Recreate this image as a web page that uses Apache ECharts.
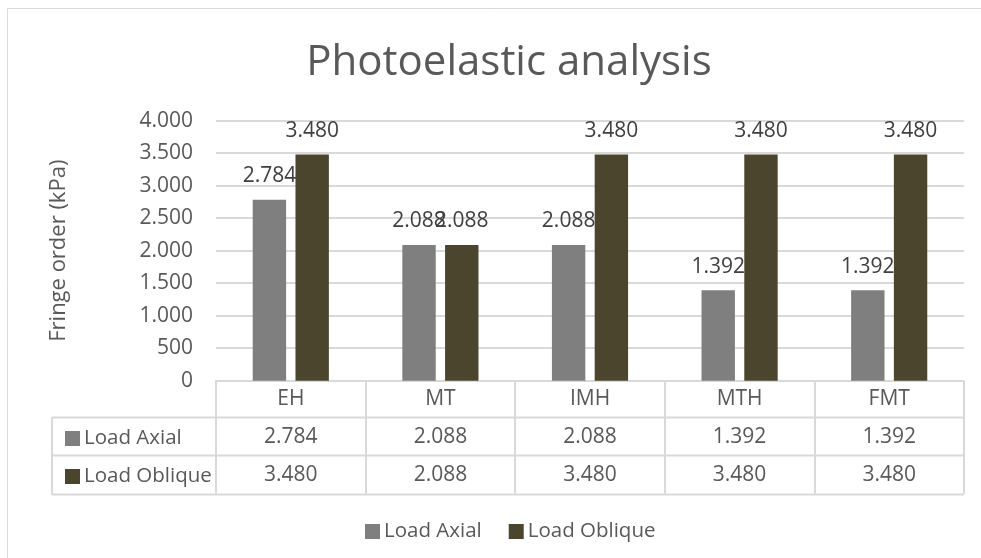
<!DOCTYPE html>
<html>
<head>
<meta charset="utf-8">
<script src="https://cdn.jsdelivr.net/npm/echarts@6/dist/echarts.min.js"></script>
<style>
html,body{margin:0;padding:0;background:#fff;}
#chart{width:981px;height:558px;}
</style>
</head>
<body>
<div id="chart"></div>
<script>
const categories = ['EH', 'MT', 'IMH', 'MTH', 'FMT'];
const loadAxial = [2784, 2088, 2088, 1392, 1392];
const loadOblique = [3480, 2088, 3480, 3480, 3480];
const seriesNames = ['Load Axial', 'Load Oblique'];
const yTicks = { min: 0, max: 4000, interval: 500 };

const FONT = '"Open Sans", sans-serif';
const TXT = '#595959';
const GRID = '#d9d9d9';
const COL_AXIAL = '#7f7f7f';
const COL_OBL = '#4b452e';

function fmt(n) {
  return String(Math.round(n)).replace(/\B(?=(\d{3})+(?!\d))/g, '.');
}

const chart = echarts.init(document.getElementById('chart'), null, { renderer: 'canvas' });

const gridLeft = 216, gridRight = 17, gridTop = 120.7, gridBottom = 177.3;
const axisY = 558 - gridBottom;   // y of the x axis line
const tableLeft = 52, tableRight = 981 - gridRight;
const rowLines = [axisY + 36.3, axisY + 74.3, axisY + 113.3];

const graphics = [
  { type: 'rect', shape: { x: 7.5, y: 8.5, width: 1100, height: 700 }, style: { fill: 'none', stroke: GRID, lineWidth: 1 }, silent: true, z: -1 }
];
rowLines.forEach(function (y) {
  graphics.push({ type: 'line', shape: { x1: tableLeft, y1: Math.round(y) + 0.5, x2: tableRight, y2: Math.round(y) + 0.5 }, style: { stroke: GRID, lineWidth: 2 }, silent: true });
});
graphics.push({ type: 'line', shape: { x1: tableLeft, y1: rowLines[0], x2: tableLeft, y2: rowLines[2] + 1 }, style: { stroke: GRID, lineWidth: 2 }, silent: true });

const option = {
  backgroundColor: '#ffffff',
  animation: false,
  title: {
    text: 'Photoelastic analysis',
    left: 504,
    textAlign: 'center',
    top: 37,
    textStyle: { fontFamily: FONT, fontSize: 42, fontWeight: 'normal', color: TXT }
  },
  legend: [
    {
      data: seriesNames,
      left: 360,
      top: 516,
      itemWidth: 15,
      itemHeight: 15,
      itemGap: 27,
      icon: 'rect',
      textStyle: { fontFamily: FONT, fontSize: 20.5, color: TXT, padding: [0, 0, 0, -1] }
    },
    {
      data: seriesNames,
      orient: 'vertical',
      left: 60,
      top: 423,
      itemWidth: 15,
      itemHeight: 15,
      itemGap: 17,
      icon: 'rect',
      textStyle: { fontFamily: FONT, fontSize: 20.5, color: TXT, padding: [0, 0, 0, -1] }
    }
  ],
  grid: { left: gridLeft, right: gridRight, top: gridTop, bottom: gridBottom },
  xAxis: {
    type: 'category',
    data: categories,
    axisLine: { show: true, lineStyle: { color: GRID, width: 2 } },
    axisTick: { show: true, length: 113, lineStyle: { color: GRID, width: 2 } },
    axisLabel: {
      margin: 0,
      interval: 0,
      fontFamily: FONT,
      formatter: function (value, index) {
        return '{c|' + value + '}\n{v|' + fmt(loadAxial[index]) + '}\n{v|' + fmt(loadOblique[index]) + '}';
      },
      rich: {
        c: { fontFamily: FONT, fontSize: 21, color: TXT, lineHeight: 37.6 },
        v: { fontFamily: FONT, fontSize: 21, color: TXT, lineHeight: 37.6 }
      }
    }
  },
  yAxis: {
    type: 'value',
    min: yTicks.min,
    max: yTicks.max,
    interval: yTicks.interval,
    name: 'Fringe order (kPa)',
    nameLocation: 'middle',
    nameGap: 146,
    nameTextStyle: { fontFamily: FONT, fontSize: 22, color: TXT },
    axisLine: { show: false },
    axisTick: { show: false },
    axisLabel: { fontFamily: FONT, fontSize: 21, color: TXT, margin: 23, formatter: function (v) { return fmt(v); } },
    splitLine: { lineStyle: { color: GRID, width: 2 } }
  },
  series: [
    {
      name: seriesNames[0],
      type: 'bar',
      data: loadAxial,
      barWidth: 33.4,
      barGap: '28%',
      itemStyle: { color: COL_AXIAL },
      label: { show: true, position: 'top', distance: 13, fontFamily: FONT, fontSize: 21, color: '#404040', formatter: function (p) { return fmt(p.value); } }
    },
    {
      name: seriesNames[1],
      type: 'bar',
      data: loadOblique,
      barWidth: 33.4,
      barGap: '28%',
      itemStyle: { color: COL_OBL },
      label: { show: true, position: 'top', distance: 13, fontFamily: FONT, fontSize: 21, color: '#404040', formatter: function (p) { return fmt(p.value); } }
    }
  ],
  graphic: graphics
};

chart.setOption(option);
</script>
</body>
</html>
